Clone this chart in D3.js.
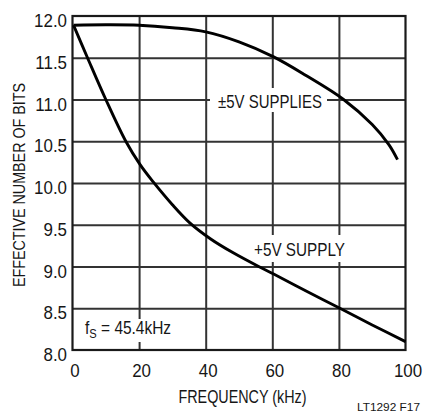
<!DOCTYPE html>
<html><head><meta charset="utf-8">
<script src="https://cdn.jsdelivr.net/npm/d3@7"></script>
<style>
body{margin:0;background:#fff;}
svg text{font-family:"Liberation Sans",Arial,Helvetica,sans-serif;fill:#161616;}
</style></head><body>
<svg id="c" width="424" height="411" xmlns="http://www.w3.org/2000/svg"></svg>
<script>
const xTicks = [0, 20, 40, 60, 80, 100];
const yTicks = [8.0, 8.5, 9.0, 9.5, 10.0, 10.5, 11.0, 11.5, 12.0];
const dualFreq = [0.3, 10, 20, 30, 40, 50, 60.4, 70, 81.4, 90, 95, 97.6];
const dualEnob = [11.89, 11.895, 11.89, 11.86, 11.81, 11.69, 11.51, 11.29, 11.0, 10.70, 10.46, 10.28];
const singleFreq = [0.3, 4.5, 10, 16, 20.3, 24.3, 30, 35.3, 41.5, 48, 55.9, 60.4, 70, 80.3, 90, 100];
const singleEnob = [11.89, 11.5, 11.0, 10.5, 10.22, 10.01, 9.74, 9.52, 9.33, 9.17, 9.0, 8.91, 8.71, 8.5, 8.30, 8.10];
const labels = ["±5V SUPPLIES", "+5V SUPPLY"];

const svg = d3.select("#c");
const L = 72.5, R = 405.5, T = 16, B = 350;
const x = d3.scaleLinear().domain([0, 100]).range([L, R]);
const y = d3.scaleLinear().domain([8, 12]).range([B, T]);

// grid via d3 axes with full-length ticks
const gx = svg.append("g").attr("transform", `translate(0,${B})`)
  .call(d3.axisBottom(x).tickValues(xTicks.slice(1, -1)).tickSize(-(B - T)).tickFormat(""));
const gy = svg.append("g").attr("transform", `translate(${L},0)`)
  .call(d3.axisLeft(y).tickValues(yTicks.slice(1, -1)).tickSize(-(R - L)).tickFormat(""));
gx.select(".domain").remove();
gy.select(".domain").remove();
gx.selectAll(".tick line").attr("stroke", "#333").attr("stroke-width", 2);
gy.selectAll(".tick line").attr("stroke", "#333").attr("stroke-width", 2);

// label knockouts
function knock(x0, y0, x1, y1) {
  svg.append("rect").attr("x", x0).attr("y", y0).attr("width", x1 - x0).attr("height", y1 - y0).attr("fill", "#fff");
}
knock(210, 88, 327, 112);
knock(250, 235, 350, 262);
knock(80, 319, 178, 342);

// frame
svg.append("rect").attr("x", L).attr("y", T).attr("width", R - L).attr("height", B - T)
  .attr("fill", "none").attr("stroke", "#1a1a1a").attr("stroke-width", 2.2);

// curves
const line = d3.line().x(d => x(d[0])).y(d => y(d[1])).curve(d3.curveCatmullRom.alpha(0.5));
svg.append("path").datum(dualFreq.map((f, i) => [f, dualEnob[i]])).attr("d", line)
  .attr("fill", "none").attr("stroke", "#000").attr("stroke-width", 2.9);
svg.append("path").datum(singleFreq.map((f, i) => [f, singleEnob[i]])).attr("d", line)
  .attr("fill", "none").attr("stroke", "#000").attr("stroke-width", 2.9);

// helper for horizontally condensed text
function ctext(px, py, str, size, sx, anchor) {
  return svg.append("text").attr("transform", `translate(${px},${py}) scale(${sx},1)`)
    .attr("font-size", size).attr("text-anchor", anchor || "start").text(str);
}

// tick labels
xTicks.forEach(d => ctext(x(d) + 2.5, 377, d, 18, 0.94, "middle"));
yTicks.forEach(d => ctext(67, y(d) + 11, d.toFixed(1), 18, 0.94, "end"));

// axis titles
svg.append("text").attr("x", 242.5).attr("y", 403).attr("text-anchor", "middle")
  .attr("font-size", 18).attr("textLength", 128).attr("lengthAdjust", "spacingAndGlyphs")
  .text("FREQUENCY (kHz)");
svg.append("text").attr("transform", "translate(25,185) rotate(-90)").attr("text-anchor", "middle")
  .attr("font-size", 17).attr("textLength", 204).attr("lengthAdjust", "spacingAndGlyphs")
  .text("EFFECTIVE NUMBER OF BITS");

// curve labels
svg.append("text").attr("x", 218).attr("y", 107.5).attr("font-size", 18)
  .attr("textLength", 104).attr("lengthAdjust", "spacingAndGlyphs").text(labels[0]);
svg.append("text").attr("x", 254).attr("y", 256).attr("font-size", 18)
  .attr("textLength", 91).attr("lengthAdjust", "spacingAndGlyphs").text(labels[1]);
const fs = svg.append("text").attr("transform", "translate(85,333.5) scale(0.86,1)").attr("font-size", 18);
fs.append("tspan").text("f");
fs.append("tspan").attr("dy", 4.5).attr("font-size", 13).text("S");
fs.append("tspan").attr("dy", -4.5).text(" = 45.4kHz");

// figure id
svg.append("text").attr("x", 357).attr("y", 410.5).attr("font-size", 10.5)
  .attr("textLength", 63).attr("lengthAdjust", "spacingAndGlyphs").text("LT1292 F17");
</script></body></html>
